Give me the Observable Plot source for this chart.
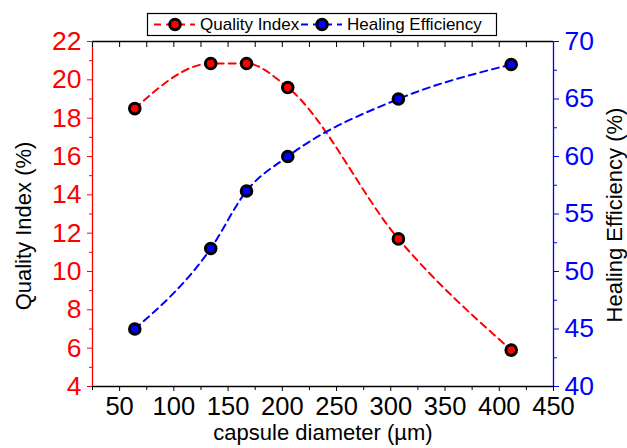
<!DOCTYPE html>
<html>
<head>
<meta charset="utf-8">
<script src="https://cdn.jsdelivr.net/npm/d3@7"></script>
<script src="https://cdn.jsdelivr.net/npm/@observablehq/plot@0.6"></script>
<style>
  body { margin: 0; background: #fff; }
  #wrap { position: relative; width: 627px; height: 448px; font-family: "Liberation Sans", Arial, sans-serif; }
  #wrap > svg, #wrap > .layer { position: absolute; left: 0; top: 0; }
</style>
</head>
<body>
<div id="wrap"></div>
<script>
// ---- data ----
const diameters = [64, 134, 167, 205, 307, 411];
const qualityIndex = [18.5, 20.85, 20.85, 19.6, 11.7, 5.9];
const healingEfficiency = [45, 52, 57, 60, 65, 68];

const xTicks = [50, 100, 150, 200, 250, 300, 350, 400, 450];
const xMinorTicks = [25, 75, 125, 175, 225, 275, 325, 375, 425];
const qiTicks = [4, 6, 8, 10, 12, 14, 16, 18, 20, 22];
const qiMinorTicks = [5, 7, 9, 11, 13, 15, 17, 19, 21];
const heTicks = [40, 45, 50, 55, 60, 65, 70];
const heMinorTicks = [42.5, 47.5, 52.5, 57.5, 62.5, 67.5];

const xTitle = "capsule diameter (µm)";
const qiTitle = "Quality Index (%)";
const heTitle = "Healing Efficiency (%)";
const seriesNames = ["Quality Index", "Healing Efficiency"];

const qiData = diameters.map((d, i) => ({d, v: qualityIndex[i]}));
const heData = diameters.map((d, i) => ({d, v: healingEfficiency[i]}));

const RED = "#ff0000", BLUE = "#0000ff";
const FONT = "'Liberation Sans', Arial, sans-serif";

const common = {
  width: 627, height: 448,
  marginLeft: 92, marginRight: 74, marginTop: 41, marginBottom: 62,
  x: {domain: [25, 450], label: null},
};

const wrap = document.getElementById("wrap");

const p1 = Plot.plot({
  ...common,
  style: {fontFamily: FONT, background: "#fff", overflow: "visible"},
  y: {domain: [4, 22], label: null},
  marks: [
    Plot.ruleY([4], {stroke: "#000", strokeWidth: 1.3}),
    Plot.ruleY([22], {stroke: "#000", strokeWidth: 1.3}),
    Plot.ruleX([25], {stroke: RED, strokeWidth: 1.3}),
    Plot.axisX(xTicks, {anchor: "bottom", tickSize: 5, tickPadding: 5, fontSize: 25.5, color: "#000", label: null}),
    Plot.axisX(xMinorTicks, {anchor: "bottom", tickSize: 4, tickFormat: () => "", color: "#000", label: null}),
    Plot.axisX(xTicks.concat(xMinorTicks), {anchor: "top", tickSize: -5, tickFormat: () => "", color: "#000", label: null}),
    Plot.axisY(qiTicks, {anchor: "left", tickSize: 5, tickPadding: 6, fontSize: 26.5, color: RED, label: null}),
    Plot.axisY(qiMinorTicks, {anchor: "left", tickSize: 3, tickFormat: () => "", color: RED, label: null}),
    Plot.text([xTitle], {frameAnchor: "bottom", dy: 53, fontSize: 22, fill: "#000", textAnchor: "middle"}),
    Plot.text([qiTitle], {frameAnchor: "left", rotate: -90, dx: -69, dy: 12, fontSize: 22, fill: "#000", textAnchor: "middle"}),
    Plot.line(qiData, {x: "d", y: "v", stroke: RED, strokeWidth: 2, strokeDasharray: "7,5", curve: "monotone-x"}),
    Plot.dot(qiData, {x: "d", y: "v", r: 5.3, fill: RED, stroke: "#000", strokeWidth: 3})
  ]
});

const p2 = Plot.plot({
  ...common,
  style: {fontFamily: FONT, background: "transparent", overflow: "visible"},
  x: {domain: [25, 450], label: null, axis: null},
  y: {domain: [40, 70], label: null},
  marks: [
    Plot.ruleX([450], {stroke: BLUE, strokeWidth: 1.3}),
    Plot.axisY(heTicks, {anchor: "right", tickSize: 5, tickPadding: 6, fontSize: 26.5, color: BLUE, label: null}),
    Plot.axisY(heMinorTicks, {anchor: "right", tickSize: 3, tickFormat: () => "", color: BLUE, label: null}),
    Plot.text([heTitle], {frameAnchor: "right", rotate: -90, dx: 61, dy: 1, fontSize: 22, fill: "#000", textAnchor: "middle"}),
    Plot.line(heData, {x: "d", y: "v", stroke: BLUE, strokeWidth: 2, strokeDasharray: "7,5", curve: "monotone-x"}),
    Plot.dot(heData, {x: "d", y: "v", r: 5.3, fill: BLUE, stroke: "#000", strokeWidth: 3})
  ]
});

wrap.appendChild(p1);
wrap.appendChild(p2);

// ---- legend (box above the frame) ----
const ns = "http://www.w3.org/2000/svg";
const leg = document.createElementNS(ns, "svg");
leg.setAttribute("class", "layer");
leg.setAttribute("width", 627);
leg.setAttribute("height", 448);
leg.style.pointerEvents = "none";
function el(tag, attrs, text) {
  const e = document.createElementNS(ns, tag);
  for (const k in attrs) e.setAttribute(k, attrs[k]);
  if (text != null) e.textContent = text;
  leg.appendChild(e);
  return e;
}
el("rect", {x: 147.5, y: 13.5, width: 349, height: 22, fill: "#fff", stroke: "#000", "stroke-width": 1.2});
const items = [
  {x0: 154, x1: 195, cx: 175, tx: 200, color: RED, name: seriesNames[0]},
  {x0: 301, x1: 342, cx: 322, tx: 347, color: BLUE, name: seriesNames[1]}
];
for (const it of items) {
  el("line", {x1: it.x0, x2: it.x1, y1: 24.5, y2: 24.5, stroke: it.color, "stroke-width": 2, "stroke-dasharray": "7,5"});
  el("circle", {cx: it.cx, cy: 24.5, r: 5.3, fill: it.color, stroke: "#000", "stroke-width": 3});
  el("text", {x: it.tx, y: 24.5, dy: "0.35em", "font-size": 17, "font-family": FONT, fill: "#000"}, it.name);
}
wrap.appendChild(leg);
</script>
</body>
</html>
